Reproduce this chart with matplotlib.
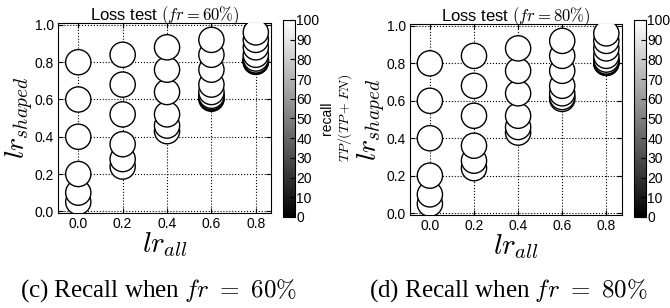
import matplotlib
matplotlib.use('Agg')
import matplotlib.pyplot as plt
import numpy as np

plt.rcParams['font.family'] = ['Liberation Sans', 'DejaVu Sans']
plt.rcParams['mathtext.fontset'] = 'cm'

# lr_all / lr_shaped grid for each fr, and recall (%)
lr_all_60 = [0.0]*6 + [0.2]*6 + [0.4]*6 + [0.6]*9 + [0.8]*9
lr_shaped_60 = [0.05, 0.10, 0.20, 0.40, 0.60, 0.80,
                0.24, 0.28, 0.36, 0.52, 0.68, 0.84,
                0.43, 0.46, 0.52, 0.64, 0.76, 0.88,
                0.604, 0.608, 0.612, 0.62, 0.64, 0.68, 0.76, 0.84, 0.92,
                0.802, 0.804, 0.806, 0.81, 0.82, 0.84, 0.88, 0.92, 0.96]
recall_60 = [100]*len(lr_shaped_60)

lr_all_80 = [0.0]*6 + [0.2]*6 + [0.4]*6 + [0.6]*7 + [0.8]*9
lr_shaped_80 = [0.05, 0.10, 0.20, 0.40, 0.60, 0.80,
                0.24, 0.28, 0.36, 0.52, 0.68, 0.84,
                0.43, 0.46, 0.52, 0.64, 0.76, 0.88,
                0.61, 0.62, 0.64, 0.68, 0.76, 0.84, 0.92,
                0.802, 0.804, 0.806, 0.81, 0.82, 0.84, 0.88, 0.92, 0.96]
recall_80 = [100]*len(lr_shaped_80)

xticks = [0.0, 0.2, 0.4, 0.6, 0.8]
yticks = [0.0, 0.2, 0.4, 0.6, 0.8, 1.0]
cticks = list(range(0, 101, 10))

fig = plt.figure(figsize=(6.7, 3.08), dpi=100)


def panel(rect, crect, xs, ys, cs, fr, caption, cx, label=True):
    ax = fig.add_axes(rect)
    sc = ax.scatter(xs, ys, c=cs, s=330, cmap='gray', vmin=0, vmax=100,
                    edgecolors='black', linewidths=1.0, zorder=3)
    ax.set_xlim(-0.09, 0.87)
    ax.set_ylim(-0.01, 1.01)
    ax.set_xticks(xticks)
    ax.set_yticks(yticks)
    ax.set_xticklabels(['%.1f' % t for t in xticks])
    ax.set_yticklabels(['%.1f' % t for t in yticks])
    ax.grid(True, color='black', linestyle=':', linewidth=0.8)
    ax.tick_params(direction='in', top=True, right=True, labelsize=10, pad=3)
    ax.set_title('Loss test $(fr=' + fr + '\\%)$', fontsize=12, pad=2)
    ax.set_xlabel('$lr_{all}$', fontsize=21, labelpad=-1)
    ax.set_ylabel('$lr_{shaped}$', fontsize=20, labelpad=-1)
    cax = fig.add_axes(crect)
    cb = fig.colorbar(sc, cax=cax, ticks=cticks)
    cb.ax.tick_params(labelsize=10, direction='in', pad=1)
    if label:
        cb.set_label('recall\n$TP/(TP+FN)$', fontsize=10, labelpad=0)
    fig.text(cx, 0.058, caption, family=['Liberation Serif'], fontsize=18,
             ha='center', va='center')


panel([0.087, 0.308, 0.318, 0.617], [0.4224, 0.2955, 0.018, 0.64],
      lr_all_60, lr_shaped_60, recall_60, '60',
      '(c) Recall when $fr\\ =\\ 60\\%$', 0.237)
panel([0.612, 0.302, 0.316, 0.62], [0.946, 0.2955, 0.018, 0.64],
      lr_all_80, lr_shaped_80, recall_80, '80',
      '(d) Recall when $fr\\ =\\ 80\\%$', 0.759, label=False)

fig.savefig('out.png', dpi=100)
